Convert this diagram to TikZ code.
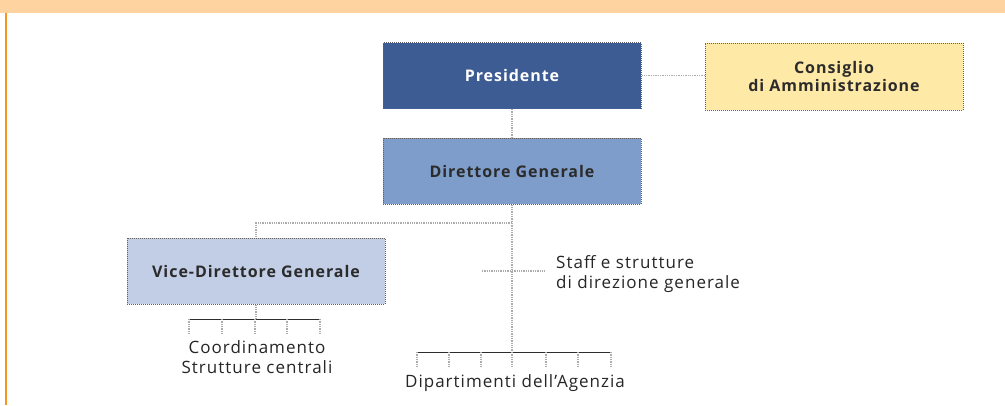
\documentclass[tikz,border=0pt]{standalone}
\usepackage{fontspec}
\setmainfont{Open Sans}[LetterSpace=6]
\usetikzlibrary{calc}
\definecolor{bandpeach}{HTML}{FFD39F}
\definecolor{edgeorange}{HTML}{F7961E}
\definecolor{presblue}{HTML}{3D5C93}
\definecolor{dirblue}{HTML}{7E9DCA}
\definecolor{viceblue}{HTML}{C1CEE5}
\definecolor{consyellow}{HTML}{FFE9A6}
\definecolor{inkgray}{HTML}{2B2B2B}

\begin{document}
\begin{tikzpicture}[x=1pt,y=-1pt,
  box/.style={draw=gray!75!black,densely dotted,line width=1pt,minimum width=258pt,
    minimum height=66pt,inner sep=0pt,align=center,text=inkgray,
    font=\fontsize{16}{18}\selectfont\bfseries},
  link/.style={draw=gray!65,densely dotted,line width=1.3pt},
  bar/.style={draw=gray!35!black,line width=1pt},
  lbl/.style={font=\fontsize{17}{20}\selectfont,text=gray!30!black,inner sep=0pt}]
 % page frame
 \useasboundingbox (0,0) rectangle (1005,405);
 \fill[white] (0,0) rectangle (1005,405);
 \fill[bandpeach] (0,0) rectangle (1005,13);
 \draw[edgeorange,line width=2pt] (6,13)--(6,405);
 % boxes
 \node[box,fill=presblue,text=white] (pres) at (512,75.5) {Presidente};
 \node[box,fill=consyellow,minimum height=67pt] (cons) at (834,76.5) {Consiglio\\di Amministrazione};
 \node[box,fill=dirblue] (dir) at (512,171) {Direttore Generale};
 \node[box,fill=viceblue] (vice) at (256,271) {Vice-Direttore Generale};
 % labels
 \node[lbl,anchor=west,align=left] (staff) at (556,274) {Staff e strutture\\di direzione generale};
 \node[lbl,align=center] (coord) at (257,357) {Coordinamento\\Strutture centrali};
 \node[lbl] (dip) at (515,383) {Dipartimenti dell'Agenzia};
 \coordinate (fork) at (512,223);\coordinate (dipbar) at (512,352);
 \coordinate (vicebar) at (256,319);\coordinate (staffL) at (482,271);
 % connectors
 \draw[link] (pres.east)--(cons.west |- pres.east);
 \draw[link] (pres)--(dir);
 \draw[link] (dir.south)--(dipbar);
 \draw[link] (fork)-|(vice.north);
 \draw[link,shorten >=11pt] (staffL)--(staffL -| staff.west);
 \draw[link] (vice.south)--(vicebar);
 % combs
 \draw[bar] (189,319)--(320,319);
 \foreach \x in {189,222,255,287,320}{\draw[link] (\x,319)--(\x,333);}
 \draw[bar] (417,352)--(611,352);
 \foreach \x in {417,449,481,512,546,578,611}{\draw[link] (\x,352)--(\x,367);}
\end{tikzpicture}
\end{document}
